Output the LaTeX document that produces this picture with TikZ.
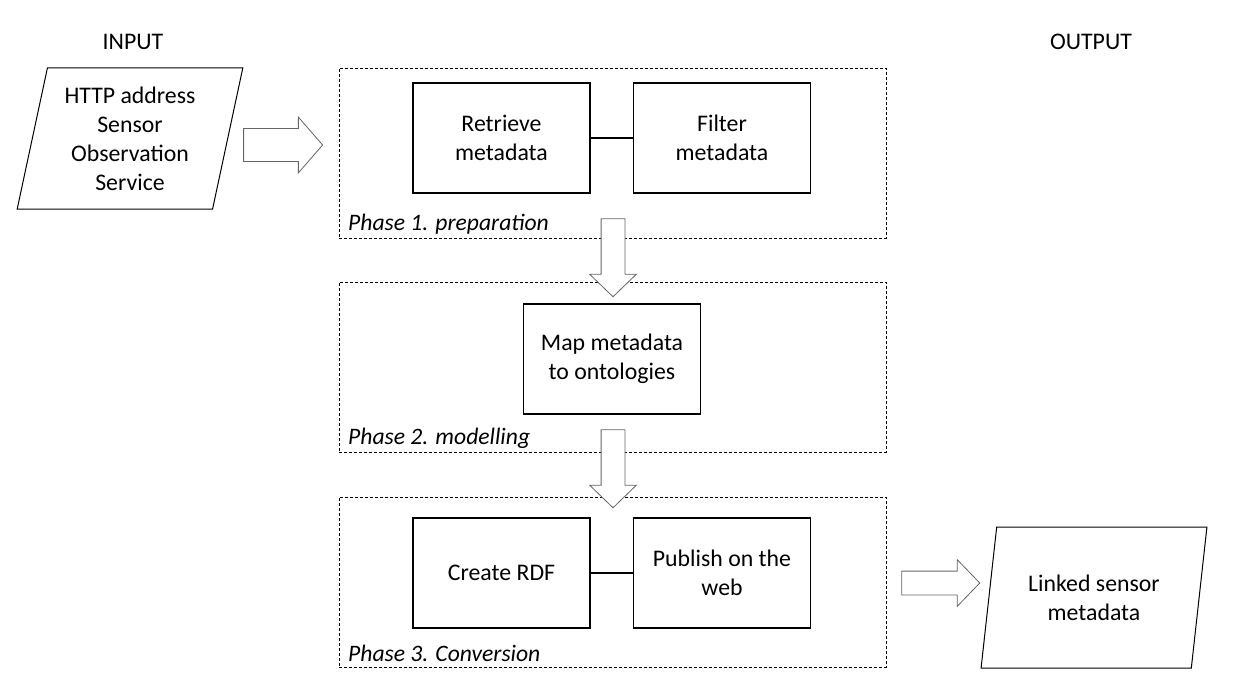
\documentclass[tikz,border=0pt]{standalone}
\usepackage{fontspec}
\setmainfont{Carlito}
\usetikzlibrary{shapes.geometric, shapes.arrows}

\begin{document}
\begin{tikzpicture}[x=1pt, y=-1pt,
  txt/.style={font=\fontsize{23.8}{29}\selectfont, align=center},
  stepbox/.style={txt, draw, line width=1.1pt, minimum width=177pt,
                  minimum height=110pt, inner sep=2pt},
  phase/.style={draw, dash pattern=on 3pt off 2pt, line width=0.7pt,
                minimum width=547pt, minimum height=170pt, inner sep=0pt},
  phaselabel/.style={font=\fontsize{23.6}{28}\selectfont\itshape, anchor=west, inner sep=0pt},
  io/.style={txt, draw, line width=1pt, trapezium, trapezium left angle=77,
             trapezium right angle=103, trapezium stretches=true,
             minimum width=226pt, minimum height=141pt, inner sep=0pt},
  blockarrow/.style={single arrow, draw=black!60, fill=white, line width=0.8pt,
                     inner xsep=0pt, inner ysep=11.5pt, single arrow head extend=11.5pt,
                     single arrow tip angle=92, minimum height=78pt},
  downarrow/.style={blockarrow, shape border rotate=270, inner xsep=11.5pt, inner ysep=0pt},
]
\useasboundingbox (0,0) rectangle (1236,698);

% input and output
\node[txt] (inlabel) at (133,42) {INPUT};
\node[txt] (outlabel) at (1091,42) {OUTPUT};
\node[io] (in) at (130,138.5) {HTTP address\\Sensor\\Observation\\Service};
\node[io] (out) at (1094,597.5) {Linked sensor\\metadata};

% phases
\node[phase] (ph1) at (612.5,153) {};
\node[phase] (ph2) at (612.5,367) {};
\node[phase] (ph3) at (612.5,582) {};
\node[phaselabel] (lab1) at (348,224) {Phase 1. preparation};
\node[phaselabel] (lab2) at (348,438) {Phase 2. modelling};
\node[phaselabel] (lab3) at (348,653) {Phase 3. Conversion};

% steps
\node[stepbox] (retr) at (501.5,138) {Retrieve\\metadata};
\node[stepbox] (filt) at (722,138) {Filter\\metadata};
\node[stepbox] (map) at (612,359) {Map metadata\\to ontologies};
\node[stepbox] (rdf) at (501.5,573) {Create RDF};
\node[stepbox] (pub) at (722,573) {Publish on the\\web};
\draw[line width=1.4pt] (retr) -- (filt);
\draw[line width=1.4pt] (rdf) -- (pub);

% block arrows
\node[blockarrow, inner ysep=16pt, single arrow tip angle=98,
      minimum height=79pt] (a1) at (276,145) {};
\node[downarrow] (a2) at (613,252) {};
\node[downarrow] (a3) at (613,463) {};
\node[blockarrow] (a4) at (935,583) {};
\end{tikzpicture}
\end{document}
